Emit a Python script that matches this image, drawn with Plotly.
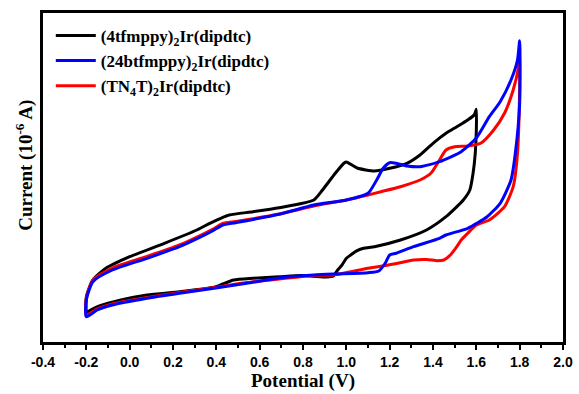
import plotly.graph_objects as go

# ---- data (Potential in V, Current in 10^-6 A, arbitrary offset) ----
black_v = [-0.20, -0.20, -0.17, -0.11, 0.00, 0.16, 0.31, 0.37, 0.42, 0.46, 0.57, 0.69, 0.85, 0.89, 0.95, 0.99, 1.00,
           1.05, 1.13, 1.20, 1.28, 1.34, 1.40, 1.46, 1.51, 1.56, 1.59, 1.60,
           1.60, 1.595, 1.585, 1.57, 1.54, 1.46, 1.37, 1.25, 1.13, 1.08, 1.05, 1.02, 1.00, 0.98, 0.96, 0.94, 0.91,
           0.85, 0.79, 0.69, 0.57, 0.48, 0.43, 0.39, 0.23, 0.08, -0.04, -0.14, -0.18, -0.20]
black_i = [2.5, 4.5, 6.2, 7.37, 8.53, 9.87, 11.2, 11.87, 12.37, 12.7, 13.03, 13.43, 14.2, 15.2, 16.9, 17.9, 18.0,
           17.4, 17.1, 17.37, 17.87, 18.7, 19.87, 20.87, 21.53, 22.2, 22.7, 23.27,
           21.2, 18.87, 16.87, 15.2, 14.2, 12.53, 11.2, 10.2, 9.53, 9.37, 9.13, 8.7, 8.37, 7.7, 7.2, 6.6, 6.5,
           6.57, 6.65, 6.53, 6.37, 6.2, 5.8, 5.47, 5.03, 4.7, 4.2, 3.6, 3.2, 2.9]

blue_v = [-0.20, -0.20, -0.17, -0.08, 0.08, 0.23, 0.33, 0.39, 0.43, 0.49, 0.69, 0.85, 1.00, 1.10, 1.14, 1.17, 1.20,
          1.23, 1.28, 1.34, 1.43, 1.53, 1.60, 1.66, 1.71, 1.76, 1.79, 1.80,
          1.80, 1.78, 1.76, 1.71, 1.65, 1.56, 1.46, 1.43, 1.31, 1.23, 1.20, 1.18, 1.15, 1.10, 0.94, 0.85, 0.69,
          0.54, 0.39, 0.23, 0.08, -0.08, -0.15, -0.20]
blue_i = [2.53, 4.2, 6.03, 7.2, 8.37, 9.53, 10.53, 11.2, 11.7, 11.93, 12.77, 13.7, 14.2, 14.87, 16.2, 17.37, 17.93,
          17.87, 17.6, 17.53, 18.03, 19.03, 20.4, 22.53, 24.03, 26.2, 28.2, 30.13,
          23.87, 18.87, 16.2, 13.87, 12.53, 11.37, 10.7, 10.37, 9.53, 8.87, 8.7, 7.9, 7.1, 6.93, 6.8, 6.7, 6.4,
          5.87, 5.37, 4.87, 4.37, 3.7, 3.2, 2.53]

red_v = [-0.20, -0.20, -0.17, -0.08, 0.08, 0.23, 0.33, 0.39, 0.43, 0.49, 0.69, 0.85, 1.00, 1.10, 1.16, 1.25, 1.34,
         1.39, 1.43, 1.46, 1.50, 1.56, 1.62, 1.68, 1.73, 1.77, 1.795, 1.80,
         1.80, 1.79, 1.77, 1.73, 1.66, 1.60, 1.56, 1.53, 1.51, 1.48, 1.45, 1.42, 1.37, 1.31, 1.22, 1.10, 0.94,
         0.85, 0.69, 0.54, 0.39, 0.23, 0.08, -0.08, -0.15, -0.20]
red_i = [2.7, 4.4, 6.2, 7.4, 8.55, 9.7, 10.7, 11.35, 11.85, 12.05, 12.8, 13.6, 14.2, 14.7, 15.03, 15.53, 16.2,
         16.87, 18.2, 19.2, 19.53, 19.6, 19.87, 21.2, 22.87, 25.2, 27.53, 29.0,
         25.5, 18.87, 15.53, 13.53, 12.2, 11.7, 10.87, 10.2, 9.53, 8.7, 8.2, 8.13, 8.25, 8.2, 7.8, 7.37, 6.7,
         6.65, 6.3, 5.95, 5.45, 4.95, 4.45, 3.8, 3.3, 2.7]

names = ["(4tfmppy)<sub>2</sub>Ir(dipdtc)",
         "(24btfmppy)<sub>2</sub>Ir(dipdtc)",
         "(TN<sub>4</sub>T)<sub>2</sub>Ir(dipdtc)"]
colors = ["#000000", "#0000ff", "#ff0000"]

x_tickvals = [-0.4, -0.2, 0.0, 0.2, 0.4, 0.6, 0.8, 1.0, 1.2, 1.4, 1.6, 1.8, 2.0]
x_ticktext = ["-0.4", "-0.2", "0.0", "0.2", "0.4", "0.6", "0.8", "1.0", "1.2", "1.4", "1.6", "1.8", "2.0"]
x_title = "Potential (V)"
y_title = "Current (10<sup>-6</sup> A)"

fig = go.Figure()
series = [(0, black_v, black_i), (1, blue_v, blue_i), (2, red_v, red_i)]
traces = {}
for idx, v, i in series:
    traces[idx] = go.Scatter(x=v, y=i, mode="lines", name=names[idx], legendrank=idx + 1,
                             line=dict(color=colors[idx], width=3, shape="spline", smoothing=0.6))
# drawing order: black, red, blue (blue on top)
fig.add_trace(traces[0])
fig.add_trace(traces[2])
fig.add_trace(traces[1])

title_font = dict(family="Liberation Serif", size=19, color="black", weight="bold")

fig.update_layout(
    width=579, height=394,
    margin=dict(l=43, r=16, t=13, b=52, autoexpand=False),
    paper_bgcolor="white", plot_bgcolor="white",
    showlegend=True,
    legend=dict(x=0.015, y=0.985, xanchor="left", yanchor="top", bgcolor="rgba(0,0,0,0)",
                font=dict(family="Liberation Serif", size=17, color="black", weight="bold"),
                tracegroupgap=0, itemwidth=40),
    xaxis=dict(range=[-0.4, 2.0], tickvals=x_tickvals, ticktext=x_ticktext, automargin=False,
               showgrid=False, zeroline=False, showline=True, mirror=True,
               linecolor="black", linewidth=2.5, ticks="outside", ticklen=5, tickwidth=2,
               tickcolor="black",
               minor=dict(dtick=0.1, ticks="outside", ticklen=3, tickwidth=2, tickcolor="black"),
               tickfont=dict(family="Liberation Sans", size=14, color="black", weight="bold"),
               title=dict(text=x_title, standoff=6, font=title_font)),
    yaxis=dict(range=[0, 32.9], showticklabels=False, ticks="", automargin=False,
               showgrid=False, zeroline=False, showline=True, mirror=True,
               linecolor="black", linewidth=2.5),
    annotations=[dict(text=y_title, xref="paper", yref="paper", x=-0.035, y=0.538,
                      xanchor="center", yanchor="middle", textangle=-90, showarrow=False,
                      font=title_font)],
)

fig.write_html("out.html")
